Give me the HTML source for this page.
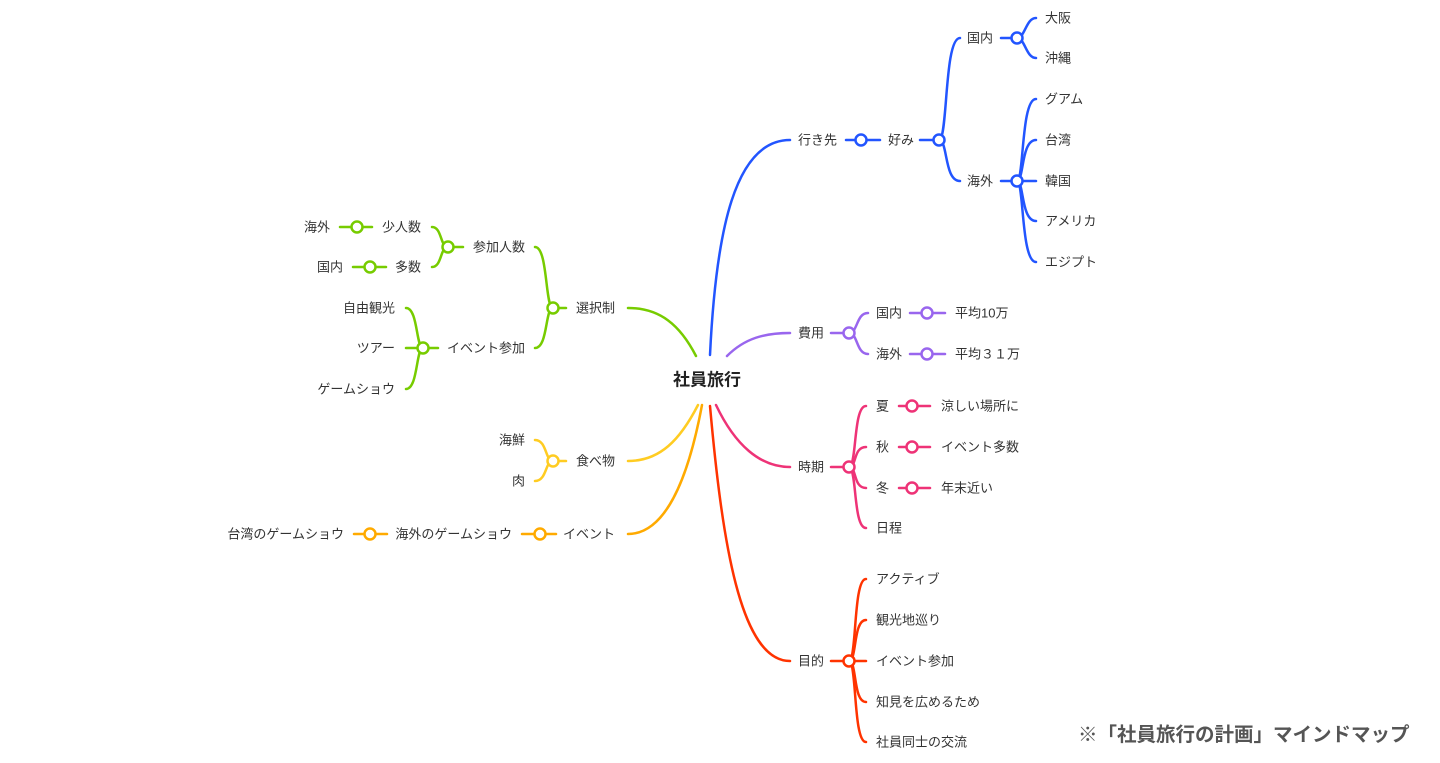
<!DOCTYPE html>
<html><head><meta charset="utf-8"><style>
html,body{margin:0;padding:0;background:#fff;}
svg{display:block}
text{font-family:"Liberation Sans","Noto Sans CJK JP",sans-serif;font-size:13px;fill:#333;dominant-baseline:central}
.e{text-anchor:end}
path,line{fill:none;stroke-width:2.5;stroke-linecap:round}
circle{fill:#fff;stroke-width:2.5}
.b path,.b line,.b circle{stroke:#2255ff}
.p path,.p line,.p circle{stroke:#9966ee}
.k path,.k line,.k circle{stroke:#ee3377}
.r path,.r line,.r circle{stroke:#ff3300}
.g path,.g line,.g circle{stroke:#77cc00}
.y path,.y line,.y circle{stroke:#ffcc22}
.o path,.o line,.o circle{stroke:#ffaa00}
</style></head><body>
<svg width="1440" height="763" viewBox="0 0 1440 763" xmlns="http://www.w3.org/2000/svg">
<text x="707" y="380" style="font-size:17px;font-weight:bold;fill:#222" text-anchor="middle">社員旅行</text>

<g class="b">
<path d="M710,355 C716,230 735,140 790,140"/>
<text x="798" y="140">行き先</text>
<line x1="846" y1="140" x2="880" y2="140"/><circle cx="861" cy="140" r="5.5"/>
<text x="888" y="140">好み</text>
<path d="M920,140 L933,140"/>
<path d="M939,140 C948,140 944,38 960,38"/>
<path d="M939,140 C948,140 944,181 960,181"/>
<circle cx="939" cy="140" r="5.5"/>
<text x="967" y="38">国内</text><text x="967" y="181">海外</text>
<line x1="1001" y1="38" x2="1012" y2="38"/>
<path d="M1017,38 C1025,38 1026,18 1036,18"/><path d="M1017,38 C1025,38 1026,58 1036,58"/>
<circle cx="1017" cy="38" r="5.5"/>
<text x="1045" y="18">大阪</text><text x="1045" y="58">沖縄</text>
<line x1="1001" y1="181" x2="1036" y2="181"/>
<path d="M1017,181 C1024,181 1021,99 1036,99"/><path d="M1017,181 C1024,181 1021,140 1036,140"/>
<path d="M1017,181 C1024,181 1021,221 1036,221"/><path d="M1017,181 C1024,181 1021,262 1036,262"/>
<circle cx="1017" cy="181" r="5.5"/>
<text x="1045" y="99">グアム</text><text x="1045" y="140">台湾</text><text x="1045" y="181">韓国</text><text x="1045" y="221">アメリカ</text><text x="1045" y="262">エジプト</text>
</g>

<g class="p">
<path d="M727,356 C745,338 765,333 790,333"/>
<text x="798" y="333">費用</text>
<line x1="831" y1="333" x2="843" y2="333"/>
<path d="M849,333 C858,333 856,313 868,313"/><path d="M849,333 C858,333 856,354 868,354"/>
<circle cx="849" cy="333" r="5.5"/>
<text x="876" y="313">国内</text><text x="876" y="354">海外</text>
<line x1="910" y1="313" x2="945" y2="313"/><circle cx="927" cy="313" r="5.5"/>
<line x1="910" y1="354" x2="945" y2="354"/><circle cx="927" cy="354" r="5.5"/>
<text x="955" y="313">平均10万</text><text x="955" y="354">平均３１万</text>
</g>

<g class="k">
<path d="M716,405 C735,445 760,467 790,467"/>
<text x="798" y="467">時期</text>
<line x1="831" y1="467" x2="843" y2="467"/>
<path d="M849,467 C857,467 853,406 866,406"/><path d="M849,467 C857,467 853,447 866,447"/>
<path d="M849,467 C857,467 853,488 866,488"/><path d="M849,467 C857,467 853,528 866,528"/>
<circle cx="849" cy="467" r="5.5"/>
<text x="876" y="406">夏</text><text x="876" y="447">秋</text><text x="876" y="488">冬</text><text x="876" y="528">日程</text>
<line x1="899" y1="406" x2="930" y2="406"/><circle cx="912" cy="406" r="5.5"/>
<line x1="899" y1="447" x2="930" y2="447"/><circle cx="912" cy="447" r="5.5"/>
<line x1="899" y1="488" x2="930" y2="488"/><circle cx="912" cy="488" r="5.5"/>
<text x="941" y="406">涼しい場所に</text><text x="941" y="447">イベント多数</text><text x="941" y="488">年末近い</text>
</g>

<g class="r">
<path d="M710,406 C722,540 740,661 790,661"/>
<text x="798" y="661">目的</text>
<line x1="831" y1="661" x2="843" y2="661"/>
<path d="M849,661 C857,661 853,579 866,579"/><path d="M849,661 C857,661 853,620 866,620"/>
<line x1="849" y1="661" x2="866" y2="661"/>
<path d="M849,661 C857,661 853,702 866,702"/><path d="M849,661 C857,661 853,742 866,742"/>
<circle cx="849" cy="661" r="5.5"/>
<text x="876" y="579">アクティブ</text><text x="876" y="620">観光地巡り</text><text x="876" y="661">イベント参加</text><text x="876" y="702">知見を広めるため</text><text x="876" y="742">社員同士の交流</text>
</g>

<g class="g">
<path d="M696,356 C680,325 660,308 628,308"/>
<text class="e" x="615" y="308">選択制</text>
<line x1="566" y1="308" x2="559" y2="308"/>
<path d="M553,308 C545,308 548,247 535,247"/><path d="M553,308 C545,308 548,348 535,348"/>
<circle cx="553" cy="308" r="5.5"/>
<text class="e" x="525" y="247">参加人数</text><text class="e" x="525" y="348">イベント参加</text>
<line x1="463" y1="247" x2="454" y2="247"/>
<path d="M448,247 C440,247 442,227 432,227"/><path d="M448,247 C440,247 442,267 432,267"/>
<circle cx="448" cy="247" r="5.5"/>
<text class="e" x="421" y="227">少人数</text><text class="e" x="421" y="267">多数</text>
<line x1="340" y1="227" x2="372" y2="227"/><circle cx="357" cy="227" r="5.5"/>
<line x1="353" y1="267" x2="386" y2="267"/><circle cx="370" cy="267" r="5.5"/>
<text class="e" x="330" y="227">海外</text><text class="e" x="343" y="267">国内</text>
<line x1="438" y1="348" x2="406" y2="348"/>
<path d="M423,348 C416,348 418,308 406,308"/><path d="M423,348 C416,348 418,389 406,389"/>
<circle cx="423" cy="348" r="5.5"/>
<text class="e" x="395" y="308">自由観光</text><text class="e" x="395" y="348">ツアー</text><text class="e" x="395" y="389">ゲームショウ</text>
</g>

<g class="y">
<path d="M698,405 C680,440 660,461 628,461"/>
<text class="e" x="615" y="461">食べ物</text>
<line x1="566" y1="461" x2="559" y2="461"/>
<path d="M553,461 C545,461 547,440 535,440"/><path d="M553,461 C545,461 547,481 535,481"/>
<circle cx="553" cy="461" r="5.5"/>
<text class="e" x="525" y="440">海鮮</text><text class="e" x="525" y="481">肉</text>
</g>

<g class="o">
<path d="M702,405 C688,480 665,534 628,534"/>
<text class="e" x="615" y="534">イベント</text>
<line x1="522" y1="534" x2="556" y2="534"/><circle cx="540" cy="534" r="5.5"/>
<text class="e" x="512" y="534">海外のゲームショウ</text>
<line x1="354" y1="534" x2="387" y2="534"/><circle cx="370" cy="534" r="5.5"/>
<text class="e" x="344" y="534">台湾のゲームショウ</text>
</g>

<text x="1078" y="735" style="font-size:19.5px;font-weight:bold;fill:#555">※「社員旅行の計画」マインドマップ</text>
</svg>
</body></html>
